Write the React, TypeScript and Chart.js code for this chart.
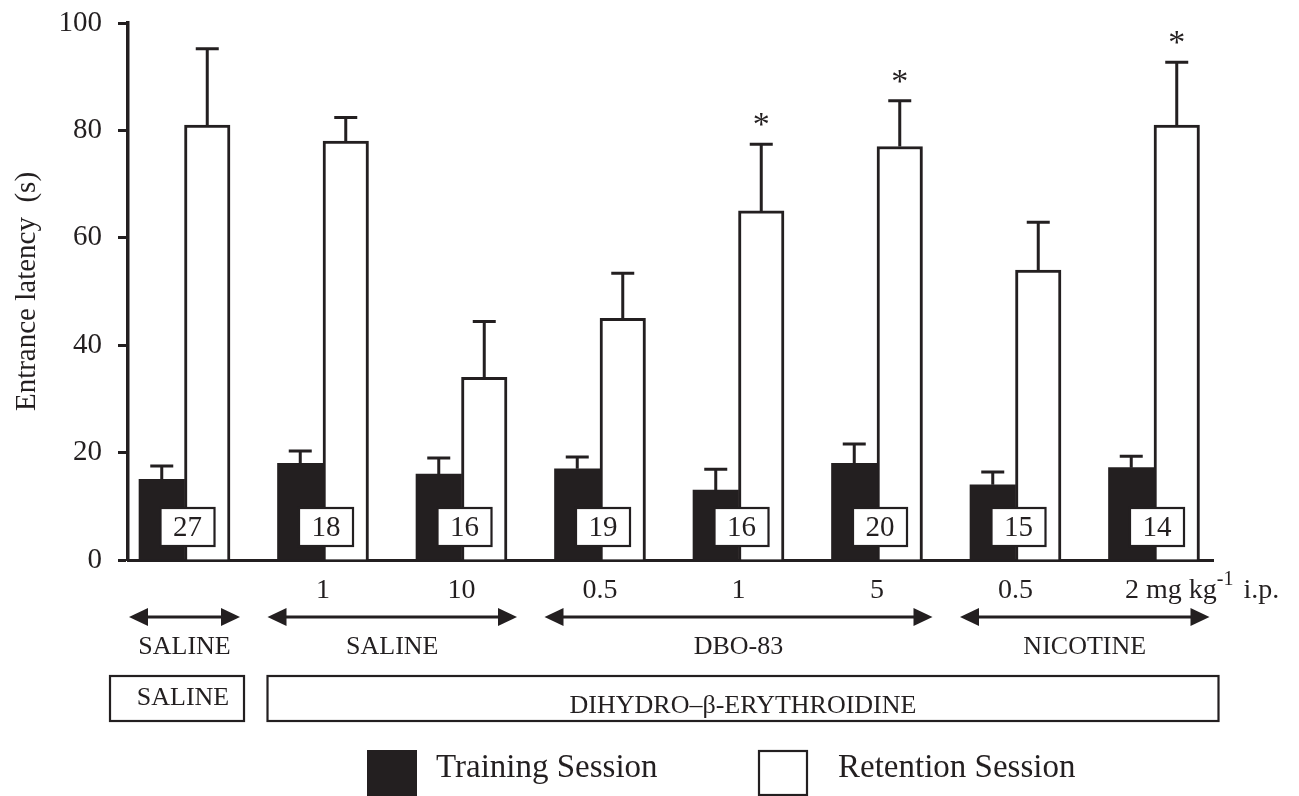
import React, { useEffect, useRef } from 'react';
import { Chart, registerables } from 'chart.js';

Chart.register(...registerables);

const FONT = "'Liberation Serif', 'Times New Roman', Times, serif";
const INK = '#231f20';

// ---- data ----
const doseLabels = ['', '1', '10', '0.5', '1', '5', '0.5', '2'];
const lastDoseUnit = ['mg kg', '-1', ' i.p.'];
const trainingMeans = [15, 18, 16, 17, 13, 18, 14, 17.2];
const trainingErr = [2.5, 2.3, 3.0, 2.2, 3.9, 3.6, 2.4, 2.1];
const retentionMeans = [81, 78, 34, 45, 65, 77, 54, 81];
const retentionErr = [14.2, 4.4, 10.4, 8.4, 12.4, 8.5, 8.9, 11.7];
const nValues = [27, 18, 16, 19, 16, 20, 15, 14];
const significant = [false, false, false, false, true, true, false, true];

const agonistLabels = ['SALINE', 'SALINE', 'DBO-83', 'NICOTINE'];
const agonistFrom = [0, 1, 3, 6];
const agonistTo = [0, 2, 5, 7];

const pretreatLabels = ['SALINE', 'DIHYDRO\u2013\u03B2-ERYTHROIDINE'];
const pretreatFrom = [0, 1];
const pretreatTo = [0, 7];

const legendLabels = ['Training Session', 'Retention Session'];

export default function App() {
  const ref = useRef<HTMLCanvasElement>(null);

  useEffect(() => {
    document.body.style.margin = '0';
    const canvas = ref.current;
    if (!canvas) return;

    const annotate = {
      id: 'annotate',
      afterDatasetsDraw(chart: any) {
        const ctx = chart.ctx;
        const ys = chart.scales.y;
        const tMeta = chart.getDatasetMeta(0);
        const rMeta = chart.getDatasetMeta(1);
        const zero = ys.getPixelForValue(0);
        ctx.save();
        ctx.strokeStyle = INK;
        ctx.fillStyle = INK;
        ctx.lineCap = 'butt';

        const drawErr = (bar: any, mean: number, err: number) => {
          const base = ys.getPixelForValue(mean);
          const top = ys.getPixelForValue(mean + err);
          ctx.lineWidth = 3;
          ctx.beginPath();
          ctx.moveTo(bar.x, base);
          ctx.lineTo(bar.x, top);
          ctx.moveTo(bar.x - 11.5, top);
          ctx.lineTo(bar.x + 11.5, top);
          ctx.stroke();
          return top;
        };

        for (let i = 0; i < trainingMeans.length; i++) {
          const tb = tMeta.data[i];
          const rb = rMeta.data[i];
          drawErr(tb, trainingMeans[i], trainingErr[i]);
          const top = drawErr(rb, retentionMeans[i], retentionErr[i]);

          // n box
          const cx = tb.x + tb.width / 2 + 3;
          const bw = 54, bh = 38;
          const bottom = zero - 14;
          ctx.fillStyle = '#ffffff';
          ctx.fillRect(cx - bw / 2, bottom - bh, bw, bh);
          ctx.lineWidth = 2.2;
          ctx.strokeStyle = INK;
          ctx.strokeRect(cx - bw / 2, bottom - bh, bw, bh);
          ctx.fillStyle = INK;
          ctx.font = `29px ${FONT}`;
          ctx.textAlign = 'center';
          ctx.textBaseline = 'middle';
          ctx.fillText(String(nValues[i]), cx, bottom - bh / 2 + 1);

          if (significant[i]) {
            ctx.font = `34px ${FONT}`;
            ctx.textBaseline = 'alphabetic';
            ctx.fillText('*', rb.x, top - 9);
          }
        }
        ctx.restore();
      },
      afterDraw(chart: any) {
        const ctx = chart.ctx;
        const tMeta = chart.getDatasetMeta(0);
        const rMeta = chart.getDatasetMeta(1);
        const leftOf = (i: number) => tMeta.data[i].x - tMeta.data[i].width / 2;
        const rightOf = (i: number) => rMeta.data[i].x + rMeta.data[i].width / 2;
        const mid = (i: number) => tMeta.data[i].x + tMeta.data[i].width / 2;
        ctx.save();
        ctx.fillStyle = INK;
        ctx.strokeStyle = INK;

        // dose labels
        ctx.font = `28px ${FONT}`;
        ctx.textBaseline = 'middle';
        const doseY = 591;
        for (let i = 0; i < doseLabels.length; i++) {
          if (!doseLabels[i]) continue;
          if (i === doseLabels.length - 1) {
            let x = mid(i) - 29;
            ctx.textAlign = 'left';
            ctx.font = `28px ${FONT}`;
            const first = doseLabels[i] + ' ' + lastDoseUnit[0];
            ctx.fillText(first, x, doseY);
            x += ctx.measureText(first).width;
            ctx.font = `20px ${FONT}`;
            ctx.fillText(lastDoseUnit[1], x, doseY - 11);
            x += ctx.measureText(lastDoseUnit[1]).width + 3;
            ctx.font = `28px ${FONT}`;
            ctx.fillText(lastDoseUnit[2], x, doseY);
          } else {
            ctx.textAlign = 'center';
            ctx.fillText(doseLabels[i], mid(i), doseY);
          }
        }

        // double arrows with agonist labels
        const arrowY = 617;
        const drawArrow = (x1: number, x2: number, y: number) => {
          const hl = 19, hw = 9;
          ctx.lineWidth = 3;
          ctx.beginPath();
          ctx.moveTo(x1 + hl - 2, y);
          ctx.lineTo(x2 - hl + 2, y);
          ctx.stroke();
          ctx.beginPath();
          ctx.moveTo(x1, y);
          ctx.lineTo(x1 + hl, y - hw);
          ctx.lineTo(x1 + hl, y + hw);
          ctx.closePath();
          ctx.fill();
          ctx.beginPath();
          ctx.moveTo(x2, y);
          ctx.lineTo(x2 - hl, y - hw);
          ctx.lineTo(x2 - hl, y + hw);
          ctx.closePath();
          ctx.fill();
        };
        ctx.font = `26px ${FONT}`;
        ctx.textAlign = 'center';
        for (let k = 0; k < agonistLabels.length; k++) {
          const x1 = leftOf(agonistFrom[k]) - 10;
          const x2 = rightOf(agonistTo[k]) + 10;
          drawArrow(x1, x2, arrowY);
          ctx.fillText(agonistLabels[k], (x1 + x2) / 2, 647);
        }

        // pretreatment boxes
        const padL = [29, 10];
        const padR = [14, 19];
        const textY = [698, 706];
        const textDx = [6, 0];
        for (let k = 0; k < pretreatLabels.length; k++) {
          const x1 = leftOf(pretreatFrom[k]) - padL[k];
          const x2 = rightOf(pretreatTo[k]) + padR[k];
          ctx.lineWidth = 2.2;
          ctx.strokeRect(x1, 676, x2 - x1, 45);
          ctx.font = `26px ${FONT}`;
          ctx.textAlign = 'center';
          ctx.textBaseline = 'middle';
          ctx.fillText(pretreatLabels[k], (x1 + x2) / 2 + textDx[k], textY[k]);
        }

        // legend
        ctx.fillStyle = INK;
        ctx.fillRect(367, 750, 50, 46);
        ctx.lineWidth = 2.2;
        ctx.strokeRect(759, 751, 48, 44);
        ctx.font = `33px ${FONT}`;
        ctx.textAlign = 'left';
        ctx.textBaseline = 'middle';
        ctx.fillText(legendLabels[0], 436, 768);
        ctx.fillText(legendLabels[1], 838, 768);

        ctx.restore();
      },
    };

    const chart = new Chart(canvas, {
      type: 'bar',
      data: {
        datasets: [
          {
            label: legendLabels[0],
            data: trainingMeans.map((y, i) => ({ x: i, y })),
            backgroundColor: INK,
            borderColor: INK,
            borderWidth: 0,
            barThickness: 45.5,
          },
          {
            label: legendLabels[1],
            data: retentionMeans.map((y, i) => ({ x: i, y })),
            backgroundColor: '#ffffff',
            borderColor: INK,
            borderWidth: 3,
            barThickness: 45.5,
          },
        ] as any,
      },
      options: {
        responsive: false,
        animation: false,
        devicePixelRatio: 1,
        layout: { padding: { top: 23, bottom: 236, left: 0, right: 86 } },
        plugins: {
          legend: { display: false },
          tooltip: { enabled: false },
        },
        scales: {
          x: {
            type: 'linear',
            min: -0.408,
            max: 7.426,
            offset: false,
            ticks: { display: false, stepSize: 1, includeBounds: false },
            grid: { display: false, offset: false },
            border: { display: true, color: INK, width: 3 },
            afterFit: (s: any) => { s.height = 0; s.paddingLeft = 0; s.paddingRight = 0; },
          },
          y: {
            min: 0,
            max: 100,
            ticks: {
              stepSize: 20,
              color: INK,
              padding: 16,
              font: { family: FONT, size: 29 },
            },
            grid: {
              display: true,
              drawOnChartArea: false,
              drawTicks: true,
              tickLength: 10,
              tickWidth: 3,
              tickColor: INK,
              color: INK,
            },
            border: { display: true, color: INK, width: 3.5 },
            title: {
              display: true,
              text: 'Entrance latency  (s)',
              color: INK,
              font: { family: FONT, size: 29 },
              padding: { top: 10, bottom: 0 },
            },
            afterFit: (s: any) => { s.width = 128; s.paddingTop = 0; s.paddingBottom = 0; },
          },
        } as any,
      },
      plugins: [annotate],
    });

    return () => chart.destroy();
  }, []);

  return <canvas ref={ref} width={1299} height={796} style={{ display: 'block' }} />;
}
